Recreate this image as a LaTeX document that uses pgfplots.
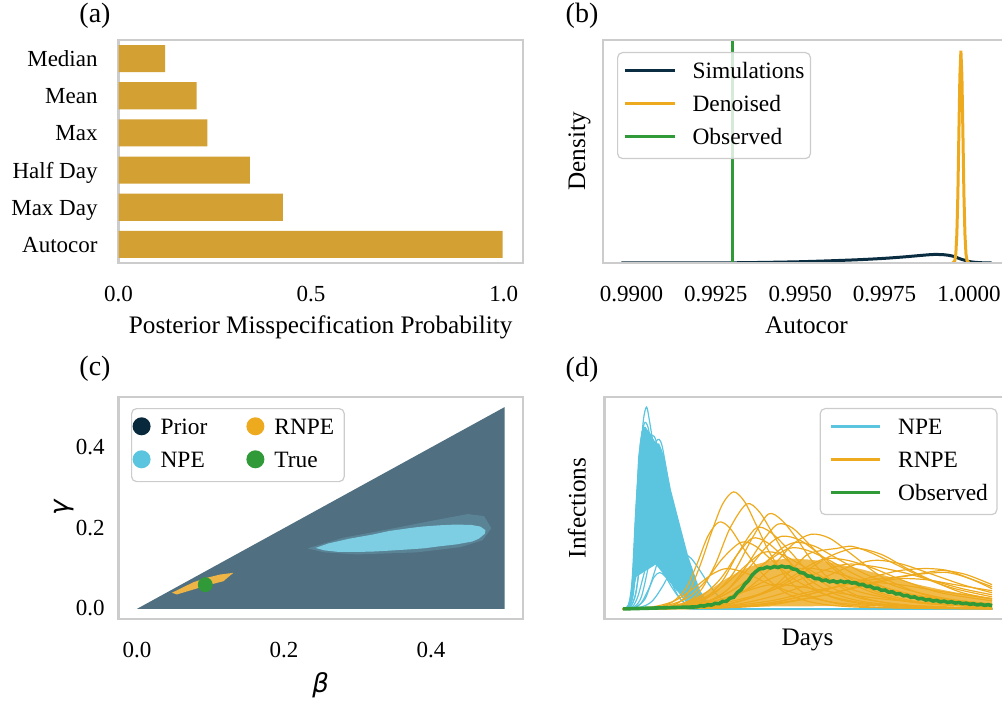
\documentclass[border=0pt]{standalone}
\usepackage{pgfplots}
\pgfplotsset{compat=1.18}
\usepackage{fontspec}
\setmainfont{Liberation Serif}
\newfontfamily\djv{DejaVu Sans}
\definecolor{axisgray}{RGB}{204,204,204}
\definecolor{barc}{RGB}{211,160,52}
\definecolor{navy}{RGB}{10,45,65}
\definecolor{priorleg}{RGB}{8,40,60}
\definecolor{orng}{RGB}{238,170,30}
\definecolor{npeb}{RGB}{91,197,224}
\definecolor{grn}{RGB}{48,153,56}
\definecolor{priorc}{RGB}{80,111,129}
\definecolor{npecl}{RGB}{126,206,227}
\definecolor{rnpecl}{RGB}{238,181,70}
\pgfplotsset{
 panel/.style={scale only axis, anchor=south west,
   axis line style={draw=axisgray, line width=1.1pt}, tick style={draw=none},
   xticklabel style={anchor=base, inner sep=0pt, yshift=-19.25pt},
   yticklabel style={anchor=base east, inner sep=0pt},
   label style={font=\fontsize{12.6}{15}\selectfont}},
 leg/.style={legend cell align=left,
   legend style={draw=axisgray, line width=0.6pt, rounded corners=2.5pt, fill=white,
     fill opacity=0.8, text opacity=1, inner ysep=5.15pt, row sep=6.8pt,
     font=\fontsize{11.7}{14}\selectfont,
     nodes={inner sep=0pt, text height=7.7pt, text depth=2pt}}},
 npel/.style={npeb, line width=0.6pt, smooth, forget plot},
 rnl/.style={orng, line width=0.6pt, smooth, forget plot},
 dotleg/.style={legend image code/.code={\fill[#1, overlay, opacity=1, draw=none] (0pt,1.15pt) circle[radius=4.5pt]; \path[draw=none, fill=none] (0pt,0pt) -- (4.5pt,0pt);}},
}
\begin{document}
\begin{tikzpicture}[font=\fontsize{11.5}{13.8}\selectfont]
\useasboundingbox (0,0) rectangle (501pt,351pt);
\node at (47.5pt,343pt) {\fontsize{14}{16.8}\selectfont (a)};
\node at (291pt,343pt) {\fontsize{14}{16.8}\selectfont (b)};
\node at (47.5pt,166.5pt) {\fontsize{14}{16.8}\selectfont (c)};
\node at (291pt,166pt) {\fontsize{14}{16.8}\selectfont (d)};

% ---------------- (a)
\begin{axis}[panel, at={(59.25pt,219.5pt)}, width=202.25pt, height=111.5pt,
  xmin=0, xmax=1.05, ymin=-0.5, ymax=5.5,
  xtick={0,0.5,1}, xticklabels={0.0,0.5,1.0},
  ytick={0,1,2,3,4,5}, yticklabels={Autocor,Max Day,Half Day,Max,Mean,Median},
  yticklabel style={xshift=-6pt, yshift=-4pt},
  xlabel={Posterior Misspecification Probability},
  xlabel style={at={([yshift=-35.5pt]axis description cs:0.5,0)}, anchor=base, inner sep=0pt},
  xbar, bar width=0.73]
\addplot[draw=none, fill=barc] coordinates {(0.9969,0) (0.4264,1) (0.3408,2) (0.2307,3) (0.2030,4) (0.1208,5)};
\end{axis}

% ---------------- (b)
\begin{axis}[panel, at={(301.5pt,219.5pt)}, width=203.5pt, height=111.5pt,
  xmin=0.989156, xmax=1.001215, ymin=0, ymax=1.05, axis on top,
  xtick={0.99,0.9925,0.995,0.9975,1}, xticklabels={0.9900,0.9925,0.9950,0.9975,1.0000},
  ytick=\empty,
  xlabel={Autocor}, xlabel style={at={([yshift=-35.5pt]axis description cs:0.5,0)}, anchor=base, inner sep=0pt},
  ylabel={Density}, ylabel style={at={([xshift=-9pt]axis description cs:0,0.5)}, anchor=base, inner sep=0pt},
  leg, legend style={at={([xshift=7pt,yshift=-6pt]axis description cs:0,1)}, anchor=north west, inner xsep=3pt, column sep=8pt},
  legend image code/.code={\draw[#1] (0pt,1.15pt) -- (25pt,1.15pt);}]
\addplot[navy, line width=1.5pt, smooth] coordinates {(0.98970,0) (0.9915,0.0003) (0.9930,0.001) (0.9940,0.003) (0.9950,0.006) (0.9960,0.011) (0.9968,0.016) (0.9975,0.022) (0.9981,0.029) (0.9986,0.036) (0.99894,0.040) (0.99925,0.039) (0.9995,0.033) (0.99975,0.019) (1.0000,0.007) (1.0002,0.003) (1.0004,0.001) (1.00067,0)};
\addlegendentry{Simulations}
\addplot[orng, line width=1.5pt] coordinates {(0.99952,0) (0.99958,0.011) (0.99961,0.044) (0.99964,0.135) (0.99967,0.32) (0.99970,0.61) (0.99973,0.88) (0.99976,1.0) (0.99979,0.88) (0.99982,0.61) (0.99985,0.32) (0.99988,0.135) (0.99991,0.044) (0.99994,0.011) (1.00000,0)};
\addlegendentry{Denoised}
\addplot[grn, line width=1.5pt] coordinates {(0.993,0) (0.993,1.05)};
\addlegendentry{Observed}
\end{axis}

% ---------------- (c)
\begin{axis}[panel, at={(59.25pt,41.5pt)}, width=202.25pt, height=111pt,
  xmin=-0.025, xmax=0.525, ymin=-0.025, ymax=0.525,
  xtick={0,0.2,0.4}, xticklabels={0.0,0.2,0.4},
  ytick={0,0.2,0.4}, yticklabels={0.0,0.2,0.4},
  yticklabel style={xshift=-6.75pt, yshift=-3.5pt},
  xlabel={\fontsize{13}{15}\selectfont\djv\itshape β},
  xlabel style={at={([yshift=-36.5pt]axis description cs:0.5,0)}, anchor=base, inner sep=0pt},
  ylabel={\fontsize{13}{15}\selectfont\djv\itshape γ},
  ylabel style={at={([xshift=-25pt]axis description cs:0,0.5)}, anchor=base, inner sep=0pt},
  leg, legend columns=2,
  legend style={at={([xshift=6.25pt,yshift=-5.5pt]axis description cs:0,1)}, anchor=north west, inner xsep=5pt, column sep=5pt,
    /tikz/every even column/.append style={column sep=24pt}}]
\addplot[fill=priorc, draw=none, forget plot] coordinates {(0,0) (0.5,0) (0.5,0.5)} -- cycle;
\addplot[fill=npecl, fill opacity=0.22, draw=none, forget plot] coordinates {(0.232,0.15) (0.28,0.176) (0.35,0.2) (0.40,0.218) (0.45,0.235) (0.472,0.23) (0.482,0.2) (0.47,0.17) (0.44,0.153) (0.38,0.14) (0.30,0.135) (0.255,0.14)} -- cycle;
\addplot[fill=npecl, draw=none, forget plot] coordinates {(0.243,0.151) (0.26,0.162) (0.289,0.174) (0.32,0.184) (0.343,0.193) (0.37,0.2) (0.388,0.204) (0.41,0.207) (0.4335,0.209) (0.455,0.208) (0.467,0.204) (0.474,0.195) (0.473,0.186) (0.465,0.174) (0.456,0.167) (0.435,0.16) (0.411,0.155) (0.39,0.15) (0.366,0.147) (0.34,0.144) (0.32,0.142) (0.295,0.141) (0.275,0.141) (0.255,0.145)} -- cycle;
\addplot[fill=rnpecl, draw=none, forget plot] coordinates {(0.0476,0.040) (0.06,0.051) (0.0769,0.0662) (0.095,0.077) (0.1132,0.0852) (0.1313,0.0894) (0.125,0.08) (0.1177,0.0686) (0.095,0.058) (0.0769,0.0481) (0.0543,0.0358)} -- cycle;
\addplot[only marks, mark=*, mark size=3.5pt, grn, forget plot] coordinates {(0.093,0.06)};
\addlegendimage{dotleg=priorleg}
\addlegendentry{Prior}
\addlegendimage{dotleg=orng}
\addlegendentry{RNPE}
\addlegendimage{dotleg=npeb}
\addlegendentry{NPE}
\addlegendimage{dotleg=grn}
\addlegendentry{True}
\end{axis}

% ---------------- (d)
\begin{axis}[panel, at={(302.25pt,41.5pt)}, width=203pt, height=111pt,
  xmin=-5, xmax=105, ymin=-0.05, ymax=1.05, xtick=\empty, ytick=\empty, axis on top,
  xlabel={Days}, xlabel style={at={([yshift=-13.25pt]axis description cs:0.5,0)}, anchor=base, inner sep=0pt},
  ylabel={Infections}, ylabel style={at={([xshift=-9.5pt]axis description cs:0,0.5)}, anchor=base, inner sep=0pt},
  leg, legend style={at={([xshift=-6.5pt,yshift=-5.5pt]axis description cs:1,1)}, anchor=north east, inner xsep=4.5pt, column sep=8.5pt},
  legend image code/.code={\draw[#1] (0pt,1.15pt) -- (24.5pt,1.15pt);}]
% NPE dense bundle
\addplot[fill=npeb, draw=none, forget plot] coordinates {(2,0.03) (2.6,0.15) (3.2,0.42) (4.1,0.75) (5,0.88) (6,0.9) (7,0.88) (8,0.85) (9,0.82) (9.8,0.82) (10.5,0.79) (11.4,0.74) (13,0.59) (15.4,0.42) (17.7,0.26) (20.9,0.09) (23.6,0.02) (21,0.01) (14.5,0.09) (8.9,0.22) (3.7,0.16)} -- cycle;
\addplot[npel] coordinates {(0,0) (1.5,0.01) (2.5,0.08) (3.5,0.35) (4.5,0.7) (5.5,0.93) (6.4,1.0) (7.2,0.93) (8.5,0.78) (10,0.6) (12,0.38) (14,0.2) (16,0.09) (19,0.02) (23,0) (100,0)};
\addplot[npel] coordinates {(0,0) (2,0.01) (3.5,0.08) (5,0.3) (6.5,0.6) (8,0.78) (9,0.83) (9.85,0.84) (10.7,0.8) (12,0.66) (13.5,0.48) (15.5,0.3) (17.5,0.16) (20,0.06) (24,0.01) (28,0) (100,0)};
\addplot[npel] coordinates {(0,0) (1.5,0.02) (2.5,0.12) (3.5,0.45) (4.5,0.78) (5.3,0.88) (6,0.9) (7,0.85) (8.5,0.68) (10,0.5) (12,0.3) (14,0.15) (17,0.04) (21,0.005) (25,0) (100,0)};
\addplot[npel] coordinates {(0,0) (1.5,0.01) (2.5,0.08) (3.5,0.35) (4.5,0.66) (5.5,0.82) (7,0.87) (8,0.84) (9.5,0.7) (11,0.52) (13,0.32) (15,0.17) (17.5,0.06) (21,0.01) (25,0) (100,0)};
\addplot[npel] coordinates {(0,0) (2,0.02) (3,0.1) (4,0.36) (5,0.62) (6.5,0.81) (8,0.86) (9,0.83) (10.5,0.7) (12.5,0.5) (14.5,0.31) (16.5,0.17) (19,0.06) (23,0.01) (26,0) (100,0)};
\addplot[npel] coordinates {(0,0) (1.5,0.02) (2.5,0.15) (3.5,0.5) (4.5,0.74) (5.5,0.8) (6.5,0.74) (8,0.58) (9.5,0.42) (11,0.28) (13,0.14) (15.5,0.05) (19,0.005) (23,0) (100,0)};
\addplot[npel] coordinates {(0,0) (2,0.01) (3.5,0.08) (5,0.28) (6.5,0.5) (8,0.6) (9,0.62) (10.5,0.57) (12,0.46) (14,0.3) (16,0.17) (18.5,0.07) (22,0.01) (26,0) (100,0)};
\addplot[npel] coordinates {(0,0) (3,0.01) (5,0.06) (7,0.22) (9,0.4) (11,0.45) (12.5,0.42) (14,0.34) (16,0.22) (18,0.12) (20.5,0.05) (24,0.01) (28,0) (100,0)};
\addplot[npel] coordinates {(0,0) (2.5,0.01) (4,0.06) (5.5,0.16) (7,0.26) (8.5,0.3) (10,0.28) (12,0.2) (14,0.12) (16.5,0.05) (20,0.01) (24,0) (100,0)};
\addplot[npel] coordinates {(0,0) (5,0.01) (8,0.04) (11,0.12) (13.5,0.21) (15.5,0.26) (16.8,0.27) (18.5,0.25) (20.5,0.2) (23,0.13) (25.5,0.07) (28.5,0.025) (32,0.005) (36,0) (100,0)};
\addplot[npel] coordinates {(0,0) (3,0.005) (5,0.03) (7,0.1) (8.5,0.16) (10,0.18) (11.5,0.16) (13.5,0.1) (16,0.04) (19,0.01) (23,0) (100,0)};
\addplot[npel] coordinates {(0,0) (3,0.005) (6,0.05) (8.5,0.18) (10.5,0.3) (12.5,0.35) (14,0.33) (16,0.25) (18,0.16) (20.5,0.07) (24,0.015) (28,0) (100,0)};
\addplot[npel] coordinates {(0,0) (1.5,0.01) (3,0.12) (4,0.38) (5,0.6) (6.2,0.7) (7.5,0.72) (8.5,0.68) (10,0.54) (12,0.35) (14,0.19) (16.5,0.07) (20,0.01) (24,0) (100,0)};
\addplot[npel] coordinates {(0,0) (2,0.02) (3,0.15) (4,0.5) (5,0.82) (5.8,0.92) (6.8,0.9) (8,0.78) (9.5,0.6) (11,0.44) (13,0.26) (15,0.13) (18,0.03) (22,0) (100,0)};
\addplot[npeb, line width=1.2pt, forget plot] coordinates {(20,0) (100,0)};
% RNPE dense bundle
\addplot[fill=orng, fill opacity=0.8, draw=none, forget plot] coordinates {(8,0.002) (12,0.01) (16,0.03) (20,0.06) (24,0.1) (28,0.15) (32,0.19) (36,0.22) (40,0.24) (45,0.25) (50,0.245) (55,0.235) (60,0.215) (65,0.195) (70,0.17) (75,0.145) (80,0.12) (85,0.1) (90,0.082) (95,0.068) (100,0.055) (100,0.012) (60,0.014) (40,0.012) (30,0.008) (20,0.004) (12,0.001)} -- cycle;
\addplot[rnl] coordinates {(0,0) (10,0.005) (15,0.03) (18,0.09) (21,0.22) (24,0.38) (27,0.52) (30,0.58) (33,0.53) (36,0.42) (40,0.27) (45,0.14) (50,0.07) (60,0.02) (75,0.005) (100,0)};
\addplot[rnl] coordinates {(0,0) (12,0.005) (17,0.03) (21,0.09) (25,0.22) (29,0.4) (33.5,0.52) (37,0.48) (41,0.36) (46,0.21) (52,0.1) (60,0.04) (75,0.01) (100,0.002)};
\addplot[rnl] coordinates {(0,0) (15,0.01) (20,0.03) (25,0.08) (30,0.18) (35,0.35) (39.4,0.47) (43,0.44) (47,0.35) (52,0.22) (58,0.12) (66,0.05) (80,0.01) (100,0.002)};
\addplot[rnl] coordinates {(0,0) (8,0.005) (13,0.03) (17,0.1) (20,0.22) (23,0.36) (26,0.43) (29,0.4) (33,0.29) (38,0.17) (44,0.08) (52,0.03) (65,0.008) (100,0)};
\addplot[rnl] coordinates {(0,0) (15,0.01) (22,0.05) (27,0.14) (31,0.27) (36,0.4) (40,0.38) (45,0.29) (50,0.19) (56,0.11) (65,0.05) (80,0.015) (100,0.003)};
\addplot[rnl] coordinates {(0,0) (15,0.008) (22,0.03) (28,0.09) (34,0.2) (39,0.31) (43,0.36) (48,0.34) (54,0.26) (60,0.17) (68,0.09) (80,0.035) (100,0.008)};
\addplot[rnl] coordinates {(0,0) (18,0.008) (26,0.03) (33,0.09) (40,0.2) (46,0.32) (51,0.37) (56,0.35) (62,0.27) (70,0.16) (80,0.08) (90,0.035) (100,0.015)};
\addplot[rnl] coordinates {(0,0) (20,0.005) (30,0.03) (40,0.09) (48,0.17) (56,0.26) (63,0.3) (70,0.27) (77,0.2) (85,0.13) (92,0.08) (100,0.05)};
\addplot[rnl] coordinates {(0,0) (20,0.006) (30,0.03) (40,0.1) (46,0.2) (50,0.27) (54,0.29) (58,0.3) (62,0.31) (67,0.28) (74,0.22) (82,0.15) (90,0.1) (100,0.06)};
\addplot[rnl] coordinates {(0,0) (25,0.005) (40,0.03) (50,0.07) (60,0.12) (68,0.16) (75,0.19) (82,0.2) (88,0.19) (94,0.15) (100,0.11)};
\addplot[rnl] coordinates {(0,0) (25,0.004) (40,0.02) (55,0.07) (65,0.12) (75,0.16) (82,0.175) (88,0.18) (94,0.15) (100,0.1)};
\addplot[rnl] coordinates {(0,0) (20,0.005) (30,0.02) (40,0.06) (50,0.12) (60,0.2) (66,0.235) (70,0.24) (76,0.22) (84,0.17) (92,0.12) (100,0.08)};
\addplot[rnl] coordinates {(0,0) (15,0.01) (25,0.05) (32,0.12) (38,0.22) (45,0.3) (50,0.29) (56,0.24) (63,0.17) (72,0.1) (84,0.05) (100,0.02)};
\addplot[rnl] coordinates {(0,0) (12,0.01) (20,0.04) (27,0.11) (33,0.21) (38,0.28) (43,0.27) (49,0.21) (56,0.14) (65,0.08) (80,0.03) (100,0.01)};
\addplot[rnl] coordinates {(0,0) (20,0.008) (30,0.03) (38,0.08) (45,0.15) (50,0.21) (55,0.25) (61,0.24) (68,0.2) (76,0.14) (86,0.08) (100,0.04)};
\addplot[rnl] coordinates {(0,0) (10,0.01) (17,0.05) (22,0.13) (27,0.25) (32,0.33) (36,0.31) (41,0.23) (47,0.14) (55,0.07) (65,0.03) (80,0.01) (100,0.002)};
\addplot[rnl] coordinates {(0,0) (20,0.01) (30,0.04) (40,0.09) (50,0.16) (60,0.22) (68,0.21) (76,0.18) (84,0.14) (92,0.1) (100,0.07)};
\addplot[rnl] coordinates {(0,0) (15,0.01) (25,0.04) (33,0.09) (40,0.15) (48,0.2) (55,0.19) (63,0.15) (72,0.1) (82,0.06) (100,0.02)};
\addplot[rnl] coordinates {(0,0) (25,0.005) (40,0.025) (52,0.06) (62,0.1) (70,0.135) (75,0.15) (82,0.145) (90,0.12) (100,0.09)};
\addplot[rnl] coordinates {(0,0) (8,0.01) (14,0.04) (19,0.1) (24,0.17) (28,0.2) (33,0.18) (40,0.12) (48,0.07) (58,0.03) (75,0.01) (100,0)};
\addplot[rnl] coordinates {(0,0) (15,0.01) (25,0.04) (32,0.08) (40,0.12) (48,0.11) (58,0.08) (70,0.05) (85,0.025) (100,0.01)};
\addplot[rnl] coordinates {(0,0) (25,0.01) (40,0.04) (52,0.09) (65,0.13) (75,0.12) (85,0.09) (100,0.05)};
\addplot[rnl] coordinates {(0,0) (12,0.01) (20,0.05) (26,0.14) (31,0.27) (35,0.35) (39,0.33) (44,0.25) (50,0.15) (58,0.07) (70,0.025) (100,0.003)};
\addplot[rnl] coordinates {(0,0) (15,0.01) (25,0.05) (32,0.12) (38,0.22) (43,0.3) (47,0.33) (52,0.31) (58,0.25) (66,0.17) (76,0.1) (88,0.05) (100,0.025)};
\addplot[rnl] coordinates {(0,0) (25,0.005) (40,0.03) (52,0.08) (62,0.13) (70,0.15) (76,0.16) (82,0.18) (87,0.19) (93,0.17) (100,0.12)};
\addplot[rnl] coordinates {(0,0) (15,0.008) (22,0.03) (28,0.09) (33,0.2) (38,0.34) (42,0.42) (46,0.4) (51,0.31) (57,0.2) (65,0.1) (78,0.035) (100,0.006)};
% Observed
\addplot[grn, line width=1.8pt, forget plot] coordinates {(0,0) (4,0.002) (8,0.004) (12,0.006) (16,0.008) (18,0.009) (20,0.01) (21,0.016) (22,0.014) (23,0.0205) (24,0.019) (25,0.0275) (26,0.026) (27,0.037) (28,0.038) (29,0.053) (30,0.058) (31,0.0815) (32,0.095) (33,0.1225) (34,0.14) (35,0.1675) (36,0.185) (37,0.1985) (38,0.2) (39,0.2075) (40,0.203) (41,0.21) (42,0.205) (43,0.212) (44,0.207) (45,0.2085) (46,0.198) (47,0.195) (48,0.18) (49,0.1775) (50,0.163) (51,0.1625) (52,0.15) (53,0.151) (54,0.14) (55,0.143) (56,0.134) (57,0.139) (58,0.132) (59,0.138) (60,0.132) (61,0.136) (62,0.128) (63,0.13) (64,0.12) (65,0.1215) (66,0.111) (67,0.1125) (68,0.102) (69,0.103) (70,0.092) (71,0.0935) (72,0.083) (73,0.0845) (74,0.074) (75,0.0755) (76,0.065) (77,0.067) (78,0.057) (79,0.0595) (80,0.05) (81,0.052) (82,0.044) (83,0.0465) (84,0.039) (85,0.042) (86,0.035) (87,0.0385) (88,0.032) (89,0.0355) (90,0.029) (91,0.0315) (92,0.026) (93,0.0285) (94,0.023) (95,0.0255) (96,0.02) (97,0.023) (98,0.018) (99,0.021) (100,0.016)};
\addlegendimage{npeb, line width=1.5pt}
\addlegendentry{NPE}
\addlegendimage{orng, line width=1.5pt}
\addlegendentry{RNPE}
\addlegendimage{grn, line width=1.5pt}
\addlegendentry{Observed}
\end{axis}
\end{tikzpicture}
\end{document}
